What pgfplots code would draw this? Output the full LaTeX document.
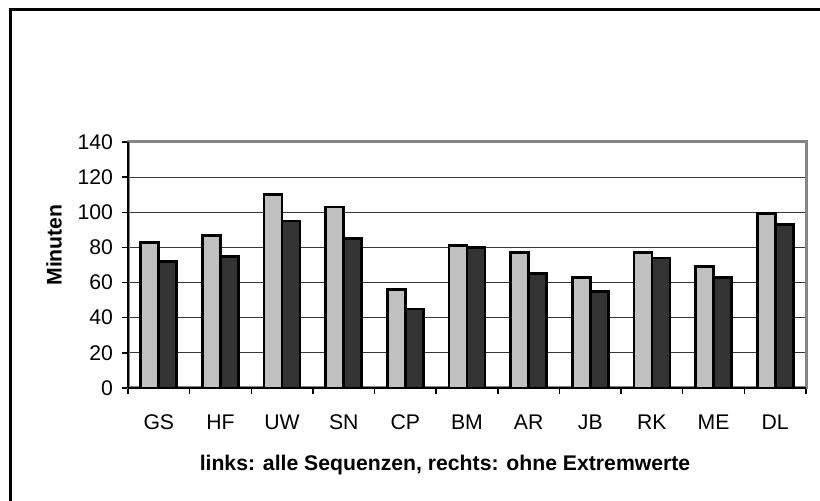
\documentclass[border=0pt]{standalone}
\usepackage{fontspec}
\setmainfont{Liberation Sans}
\usepackage{pgfplots}
\pgfplotsset{compat=1.18}
\definecolor{lightbar}{HTML}{C0C0C0}
\definecolor{darkbar}{HTML}{333333}
\definecolor{framegray}{HTML}{858585}

\begin{document}
\begin{tikzpicture}
\useasboundingbox (0pt,0pt) rectangle (410pt,250.5pt);
\clip (0pt,0pt) rectangle (410pt,250.5pt);
% outer chart frame (cut off at right and bottom)
\draw[line width=1.5pt] (5pt,-10pt) -- (5pt,245.5pt) -- (430pt,245.5pt);
\begin{axis}[
    at={(64pt,56.5pt)}, anchor=south west,
    width=339pt, height=123pt, scale only axis,
    ybar=0pt, bar width=9pt,
    xmin=-0.5, xmax=10.5,
    ymin=0, ymax=140,
    ytick={0,20,...,140},
    xtick={0,...,10},
    xticklabels={GS,HF,UW,SN,CP,BM,AR,JB,RK,ME,DL},
    minor xtick={-0.5,0.5,...,10.5},
    major x tick style={draw=none},
    tick align=outside,
    xtick pos=bottom, ytick pos=left,
    major tick length=3pt, minor tick length=3pt,
    every tick/.style={black, line width=0.7pt},
    ymajorgrids,
    major grid style={black!78, line width=0.6pt},
    axis line style={framegray, line width=1.5pt},
    tick label style={font=\fontsize{10.6}{12}\selectfont},
    /pgf/number format/assume math mode=true,
    xticklabel style={yshift=-7pt},
    yticklabel style={xshift=-1pt},
    clip=false,
]
\addplot[fill=lightbar, draw=black, line width=1.4pt] coordinates {
    (0,83) (1,87) (2,110) (3,103) (4,56) (5,81) (6,77) (7,63) (8,77) (9,69) (10,99.5)
};
\addplot[fill=darkbar, draw=black, line width=1.4pt] coordinates {
    (0,72) (1,75) (2,95) (3,85) (4,45) (5,80) (6,65) (7,55) (8,74) (9,63) (10,93)
};
\draw[black, line width=1pt] (rel axis cs:0,0) -- (rel axis cs:0,1);
\draw[black, line width=1pt] (rel axis cs:0,0) -- (rel axis cs:1,0);
\end{axis}
\node[rotate=90, font=\fontsize{10.6}{12}\selectfont\bfseries] at (27pt,128pt) {Minuten};
\node[font=\fontsize{10.6}{12}\selectfont\bfseries] at (222.5pt,18pt) {links: alle Sequenzen, rechts: ohne Extremwerte};
\end{tikzpicture}
\end{document}
